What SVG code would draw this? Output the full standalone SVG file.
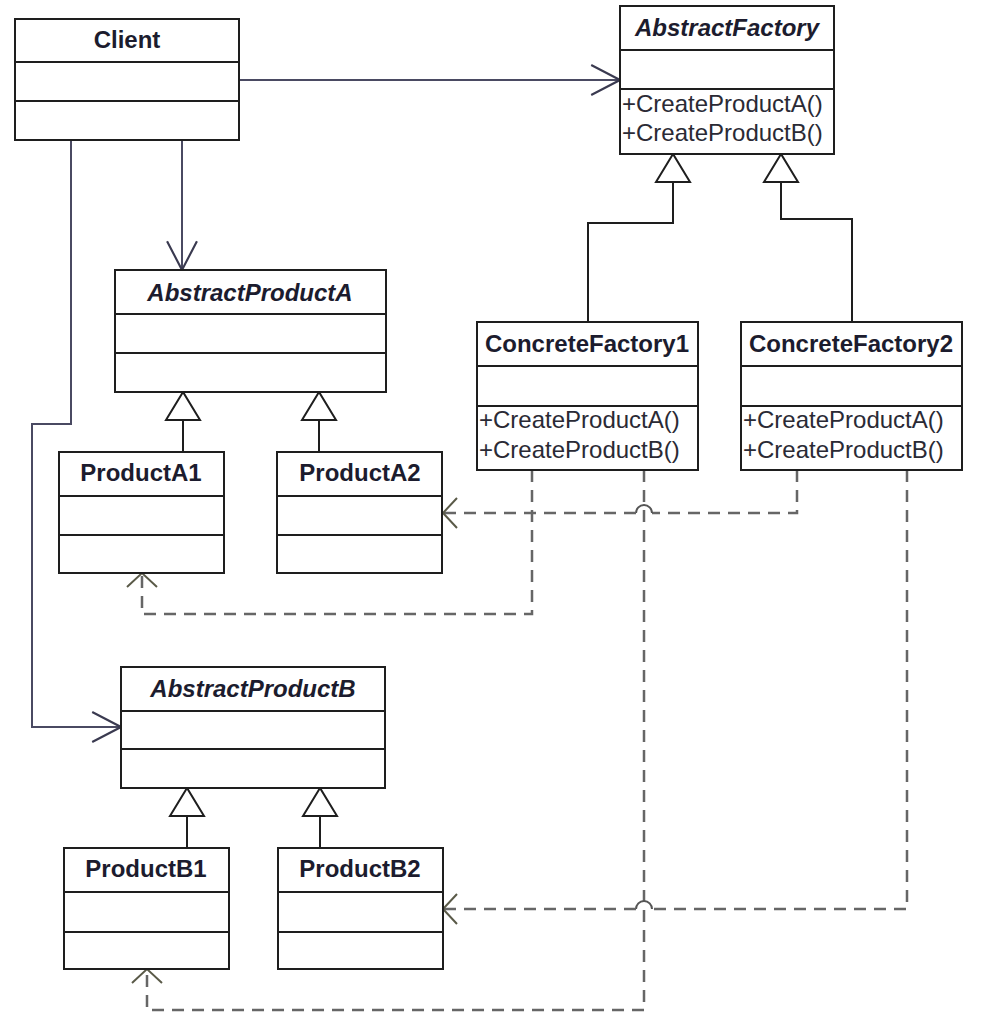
<svg xmlns="http://www.w3.org/2000/svg" width="988" height="1026" viewBox="0 0 988 1026">
<style>
.box{fill:#fff;stroke:#1e1e1e;stroke-width:2}
.div{stroke:#1e1e1e;stroke-width:2}
.t{font-family:"Liberation Sans",Arial,sans-serif;font-size:24px;font-weight:bold;fill:#1c1c2e;text-anchor:middle}
.ti{font-style:italic}
.m{font-family:"Liberation Sans",Arial,sans-serif;font-size:24px;fill:#2a2a35}
.assoc{fill:none;stroke:#4a4a62;stroke-width:2}
.gen{fill:none;stroke:#1e1e1e;stroke-width:2}
.tri{fill:#fff;stroke:#1e1e1e;stroke-width:2}
.dep{fill:none;stroke:#666;stroke-width:2.5;stroke-dasharray:12 8}
.hop{fill:none;stroke:#555;stroke-width:2}
</style>
<defs>
<marker id="open" markerUnits="userSpaceOnUse" markerWidth="32" markerHeight="32" viewBox="0 0 30 30" refX="28" refY="15" orient="auto">
<path d="M1 1 L28 15 L1 29" fill="none" stroke="#3a3a50" stroke-width="2"/>
</marker>
<marker id="openDash" markerUnits="userSpaceOnUse" markerWidth="32" markerHeight="32" viewBox="0 0 30 32" refX="15" refY="16" orient="auto">
<path d="M1 1 L15 16 L1 31" fill="none" stroke="#5a5a48" stroke-width="2"/>
</marker>
</defs>

<g id="connectors">
<path class="assoc" d="M239 80 H620" marker-end="url(#open)"/>
<path class="assoc" d="M182 140 V270" marker-end="url(#open)"/>
<path class="assoc" d="M71 140 V424 H32 V727 H121" marker-end="url(#open)"/>

<path class="gen" d="M588 322 V223 H673 V182"/>
<polygon class="tri" points="673,154 656,182 690,182"/>
<path class="gen" d="M852 322 V219 H781 V182"/>
<polygon class="tri" points="781,154 764,182 798,182"/>

<path class="gen" d="M183 452 V420"/>
<polygon class="tri" points="183,392 166,420 200,420"/>
<path class="gen" d="M319 452 V420"/>
<polygon class="tri" points="319,392 302,420 336,420"/>

<path class="gen" d="M187 848 V816"/>
<polygon class="tri" points="187,788 170,816 204,816"/>
<path class="gen" d="M320 848 V816"/>
<polygon class="tri" points="320,788 303,816 337,816"/>

<path class="dep" d="M532 470 V614 H142 V573" marker-end="url(#openDash)"/>
<path class="dep" d="M644 470 V1010 H147 V969" marker-end="url(#openDash)"/>
<path class="dep" d="M797 470 V513 H652" />
<path class="hop" d="M652 513 A8 8 0 0 0 636 513"/>
<path class="dep" d="M636 513 H443" marker-end="url(#openDash)"/>
<path class="dep" d="M907 470 V909 H652"/>
<path class="hop" d="M652 909 A8 8 0 0 0 636 909"/>
<path class="dep" d="M636 909 H443" marker-end="url(#openDash)"/>
</g>

<g id="Client">
<rect class="box" x="15" y="19" width="224" height="121"/>
<line class="div" x1="15" y1="62" x2="239" y2="62"/>
<line class="div" x1="15" y1="101" x2="239" y2="101"/>
<text class="t" x="127" y="48">Client</text>
</g>

<g id="AbstractFactory">
<rect class="box" x="620" y="6" width="214" height="148"/>
<line class="div" x1="620" y1="50" x2="834" y2="50"/>
<line class="div" x1="620" y1="89" x2="834" y2="89"/>
<text class="t ti" x="727" y="36">AbstractFactory</text>
<text class="m" x="622" y="112">+CreateProductA()</text>
<text class="m" x="622" y="141">+CreateProductB()</text>
</g>

<g id="AbstractProductA">
<rect class="box" x="115" y="270" width="271" height="122"/>
<line class="div" x1="115" y1="314" x2="386" y2="314"/>
<line class="div" x1="115" y1="353" x2="386" y2="353"/>
<text class="t ti" x="250" y="301">AbstractProductA</text>
</g>

<g id="ProductA1">
<rect class="box" x="59" y="452" width="165" height="121"/>
<line class="div" x1="59" y1="496" x2="224" y2="496"/>
<line class="div" x1="59" y1="535" x2="224" y2="535"/>
<text class="t" x="141" y="481">ProductA1</text>
</g>

<g id="ProductA2">
<rect class="box" x="277" y="452" width="165" height="121"/>
<line class="div" x1="277" y1="496" x2="442" y2="496"/>
<line class="div" x1="277" y1="535" x2="442" y2="535"/>
<text class="t" x="360" y="481">ProductA2</text>
</g>

<g id="ConcreteFactory1">
<rect class="box" x="477" y="322" width="221" height="148"/>
<line class="div" x1="477" y1="366" x2="698" y2="366"/>
<line class="div" x1="477" y1="406" x2="698" y2="406"/>
<text class="t" x="587" y="352">ConcreteFactory1</text>
<text class="m" x="479" y="428">+CreateProductA()</text>
<text class="m" x="479" y="458">+CreateProductB()</text>
</g>

<g id="ConcreteFactory2">
<rect class="box" x="741" y="322" width="221" height="148"/>
<line class="div" x1="741" y1="366" x2="962" y2="366"/>
<line class="div" x1="741" y1="406" x2="962" y2="406"/>
<text class="t" x="851" y="352">ConcreteFactory2</text>
<text class="m" x="743" y="428">+CreateProductA()</text>
<text class="m" x="743" y="458">+CreateProductB()</text>
</g>

<g id="AbstractProductB">
<rect class="box" x="121" y="667" width="264" height="121"/>
<line class="div" x1="121" y1="711" x2="385" y2="711"/>
<line class="div" x1="121" y1="749" x2="385" y2="749"/>
<text class="t ti" x="253" y="697">AbstractProductB</text>
</g>

<g id="ProductB1">
<rect class="box" x="64" y="848" width="165" height="121"/>
<line class="div" x1="64" y1="892" x2="229" y2="892"/>
<line class="div" x1="64" y1="932" x2="229" y2="932"/>
<text class="t" x="146" y="877">ProductB1</text>
</g>

<g id="ProductB2">
<rect class="box" x="278" y="848" width="165" height="121"/>
<line class="div" x1="278" y1="892" x2="443" y2="892"/>
<line class="div" x1="278" y1="932" x2="443" y2="932"/>
<text class="t" x="360" y="877">ProductB2</text>
</g>
</svg>
